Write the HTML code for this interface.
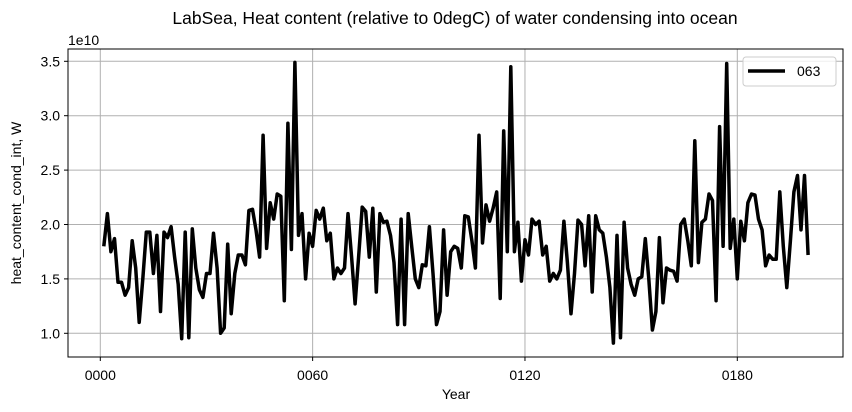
<!DOCTYPE html>
<html><head><meta charset="utf-8">
<style>
body{margin:0;background:#fff;}
svg{display:block;font-family:"Liberation Sans","DejaVu Sans",sans-serif;}
</style></head>
<body>
<svg id="chart" width="852" height="412">
<text x="455" y="24" font-size="17.5" text-anchor="middle">LabSea, Heat content (relative to 0degC) of water condensing into ocean</text>
<text x="68" y="45" font-size="14">1e10</text>
<text transform="translate(21,203) rotate(-90)" font-size="14" text-anchor="middle">heat_content_cond_int, W</text>
<text x="456" y="399" font-size="14" text-anchor="middle">Year</text>
<g id="grid"></g>
<g id="ticks"></g>
<polyline id="series" fill="none" stroke="#000" stroke-width="3.5" stroke-linejoin="round"/>
<rect x="68" y="49" width="775" height="308" fill="none" stroke="#000" stroke-width="1"/>
<g>
<rect x="743" y="57" width="93" height="29" rx="3" fill="#fff" fill-opacity="0.8" stroke="#ccc"/>
<line x1="748" y1="71" x2="785" y2="71" stroke="#000" stroke-width="3.5"/>
<text x="797" y="76" font-size="14">063</text>
</g>
</svg>
<script>
const years = Array.from({length:200},(_,i)=>i+1);
const values = [1.8,2.1,1.75,1.87,1.47,1.47,1.35,1.42,1.85,1.6,1.1,1.5,1.93,1.93,1.55,1.9,1.2,1.93,1.88,1.98,
1.7,1.45,0.95,1.93,0.96,1.96,1.6,1.4,1.33,1.55,1.55,1.92,1.6,1.0,1.05,1.82,1.18,1.55,1.72,1.72,
1.63,2.13,2.14,1.95,1.7,2.82,1.78,2.2,2.05,2.28,2.26,1.3,2.93,1.77,3.49,1.9,2.1,1.5,1.92,1.8,
2.13,2.05,2.15,1.85,1.92,1.5,1.6,1.55,1.6,2.1,1.7,1.27,1.7,2.16,2.12,1.7,2.15,1.38,2.1,2.02,
2.03,1.9,1.65,1.08,2.05,1.08,2.1,1.8,1.5,1.42,1.63,1.62,1.98,1.55,1.08,1.2,1.95,1.35,1.75,1.8,
1.78,1.6,2.08,2.07,1.85,1.6,2.82,1.83,2.18,2.03,2.15,2.3,1.32,2.86,1.75,3.45,1.75,2.02,1.48,1.86,
1.72,2.05,2.0,2.03,1.72,1.8,1.48,1.55,1.5,1.58,2.03,1.65,1.18,1.55,2.04,2.0,1.62,2.08,1.38,2.08,
1.95,1.92,1.7,1.42,0.91,1.9,0.96,2.02,1.6,1.45,1.35,1.5,1.52,1.87,1.5,1.03,1.2,1.88,1.28,1.6,
1.58,1.57,1.48,2.0,2.05,1.85,1.62,2.77,1.65,2.02,2.05,2.28,2.22,1.3,2.9,1.8,3.48,1.78,2.05,1.5,
2.03,1.85,2.2,2.28,2.27,2.05,1.95,1.62,1.72,1.68,1.68,2.3,1.8,1.42,1.85,2.3,2.45,1.95,2.45,1.72];
const xTicks = [0,60,120,180];
const xTickLabels = ["0000","0060","0120","0180"];
const yTicks = [1.0,1.5,2.0,2.5,3.0,3.5];
const yTickLabels = ["1.0","1.5","2.0","2.5","3.0","3.5"];

const NS="http://www.w3.org/2000/svg";
const xs = v => 100.3 + (v-0)*(737.3-100.3)/180;
const ys = v => 333.3 - (v-1.0)*108.8;
const grid=document.getElementById('grid'), ticks=document.getElementById('ticks');
function mk(t,a,p){const e=document.createElementNS(NS,t);for(const k in a)e.setAttribute(k,a[k]);p.appendChild(e);return e;}
xTicks.forEach((t,i)=>{
  const x=xs(t);
  const g=mk('line',{x1:x,x2:x,y1:49,y2:357,stroke:'#b0b0b0','stroke-width':1},grid);
  
  
  const tk=mk('line',{x1:x,x2:x,y1:357,y2:361,stroke:'#000'},ticks);
  
  
  const tx=mk('text',{x:x,y:380,'font-size':14,'text-anchor':'middle'},ticks);
  tx.textContent=xTickLabels[i];
  
  
});
yTicks.forEach((t,i)=>{
  const y=ys(t);
  const g=mk('line',{x1:68,x2:843,y1:y,y2:y,stroke:'#b0b0b0','stroke-width':1},grid);
  
  
  const tk=mk('line',{x1:64,x2:68,y1:y,y2:y,stroke:'#000'},ticks);
  
  
  const tx=mk('text',{x:60,y:y+5,'font-size':14,'text-anchor':'end'},ticks);
  tx.textContent=yTickLabels[i];
  
  
});
document.getElementById('series').setAttribute('points', years.map((yr,i)=>xs(yr).toFixed(1)+','+ys(values[i]).toFixed(1)).join(' '));
</script>
</body></html>
